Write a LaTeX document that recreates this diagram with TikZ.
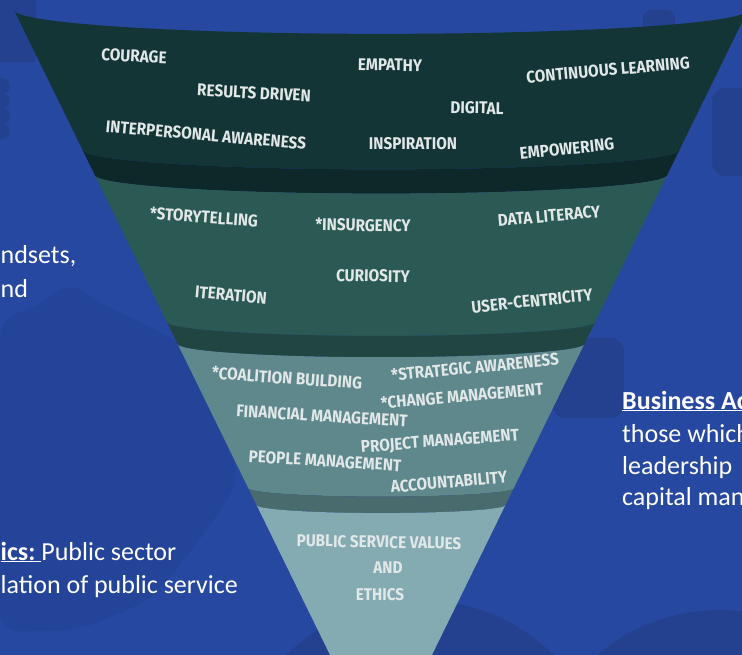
\documentclass[tikz,border=0pt]{standalone}
\usepackage{fontspec}
\setmainfont{Carlito}
\newfontfamily\labfont{Fira Sans}[FakeStretch=0.9]

\definecolor{bgblue}{HTML}{2748A0}
\definecolor{bgshade}{HTML}{23418F}
\definecolor{bgsoft}{HTML}{24449A}
\definecolor{bandA}{HTML}{133536}
\definecolor{stripA}{HTML}{0E2728}
\definecolor{bandB}{HTML}{2B5954}
\definecolor{stripB}{HTML}{214541}
\definecolor{bandC}{HTML}{5E888B}
\definecolor{stripC}{HTML}{4A6B6D}
\definecolor{bandD}{HTML}{84ABB2}
\definecolor{labtext}{HTML}{E2E8E8}

\begin{document}
\begin{tikzpicture}[x=1pt,y=-1pt,
  % elliptic rim of the funnel at side height #1, swept from angle #2 to #3
  rim/.style n args={3}{insert path={plot[domain=#2:#3,samples=90,variable=\ang]
      ({381+(367-0.49*(#1-10))*cos(\ang)},{#1+0.065*(367-0.49*(#1-10))*sin(\ang)})}},
  rimto/.style n args={3}{insert path={-- plot[domain=#2:#3,samples=90,variable=\ang]
      ({381+(367-0.49*(#1-10))*cos(\ang)},{#1+0.065*(367-0.49*(#1-10))*sin(\ang)})}},
  lab/.style={font=\labfont\bfseries\fontsize{17}{20}\selectfont, text=labtext, inner sep=0pt},
  side/.style={font=\fontsize{26}{30}\selectfont, text=white, inner sep=0pt, anchor=base west},
]
\useasboundingbox (0,0) rectangle (742,655);
\begin{scope}
\clip (0,0) rectangle (742,655);

% background
\fill[bgblue] (0,0) rectangle (742,655);

% faint shapes in the backdrop
\fill[bgshade] (0,0) rectangle (36,62);
\foreach \yy in {86,101,116,131} \fill[bgshade] (2,\yy) circle (8);
\fill[bgshade, rounded corners=8] (643,10) rectangle (675,44);
\fill[bgshade, rounded corners=14] (712,88) rectangle (760,176);
\fill[bgshade, rounded corners=14] (552,338) rectangle (624,418);
\fill[bgsoft, rounded corners=20] (0,318) -- (40,306) -- (70,280) -- (100,304)
  -- (150,326) -- (190,350) -- (240,480) -- (200,540) -- (150,600)
  -- (80,630) -- (0,632) -- cycle;
\fill[bgshade] (420,790) circle (190);
\fill[bgshade] (720,800) circle (190);

% funnel bands, top to bottom
\fill[bandA]  [rim={10}{180}{0}]  [rimto={150}{0}{180}] -- cycle;
\fill[stripA] [rim={150}{180}{0}] [rimto={175}{0}{180}] -- cycle;
\fill[bandB]  [rim={175}{180}{0}] [rimto={322}{0}{180}] -- cycle;
\fill[stripB] [rim={322}{180}{0}] [rimto={344}{0}{180}] -- cycle;
\fill[bandC]  [rim={344}{180}{0}] [rimto={488}{0}{180}] -- cycle;
\fill[stripC] [rim={488}{180}{0}] [rimto={505}{0}{180}] -- cycle;
\fill[bandD]  [rim={505}{180}{0}] -- (381+367-0.49*650,660) -- (381-367+0.49*650,660) -- cycle;

% first band
\node[lab, rotate=-3] (courage)  at (134,56)  {COURAGE};
\node[lab, rotate=-3] (results)  at (254,93)  {RESULTS DRIVEN};
\node[lab, rotate=-5] (interp)   at (206,135) {INTERPERSONAL AWARENESS};
\node[lab, rotate=-1] (empathy)  at (390,65)  {EMPATHY};
\node[lab, rotate=-1] (digital)  at (477,108) {DIGITAL};
\node[lab]            (inspire)  at (413,144) {INSPIRATION};
\node[lab, rotate=5]  (learning) at (608,70)  {CONTINUOUS LEARNING};
\node[lab, rotate=6]  (empower)  at (567,149) {EMPOWERING};

% second band
\node[lab, rotate=-4] (story)     at (204,217) {*STORYTELLING};
\node[lab, rotate=-1] (insurgent) at (363,225) {*INSURGENCY};
\node[lab, rotate=5]  (data)      at (549,216) {DATA LITERACY};
\node[lab, rotate=-1] (curious)   at (373,276) {CURIOSITY};
\node[lab, rotate=-5] (iterate)   at (231,295) {ITERATION};
\node[lab, rotate=6]  (usercent)  at (532,301) {USER-CENTRICITY};

% third band
\node[lab, rotate=-4]  (coalition) at (287,378) {*COALITION BUILDING};
\node[lab, rotate=5.5] (strategic) at (475,367) {*STRATEGIC AWARENESS};
\node[lab, rotate=5]   (change)    at (462,396) {*CHANGE MANAGEMENT};
\node[lab, rotate=-3.5](finance)   at (322,416) {FINANCIAL MANAGEMENT};
\node[lab, rotate=4.5] (project)   at (440,442) {PROJECT MANAGEMENT};
\node[lab, rotate=-3.5](people)    at (325,461) {PEOPLE MANAGEMENT};
\node[lab, rotate=5]   (account)   at (449,482) {ACCOUNTABILITY};

% fourth band
\node[lab, rotate=-1] (values) at (379,542) {PUBLIC SERVICE VALUES};
\node[lab]            (and)    at (388,568) {AND};
\node[lab]            (ethics) at (380,595) {ETHICS};

% side texts, running off the edges of the page
\node[side] (lefta) at (0.5,264) {ndsets,};
\node[side] (leftb) at (0.5,298) {nd};
\node[side] (leftc) at (0.5,560) {\underline{\textbf{ics:}\ }Public sector};
\node[side] (leftd) at (0.5,593) {lation of public service};
\node[side] (righta) at (622,409) {\underline{\textbf{Business Ac}}};
\node[side] (rightb) at (622,442) {those which};
\node[side] (rightc) at (622,474) {leadership};
\node[side] (rightd) at (622,505) {capital man};
\end{scope}
\end{tikzpicture}
\end{document}
